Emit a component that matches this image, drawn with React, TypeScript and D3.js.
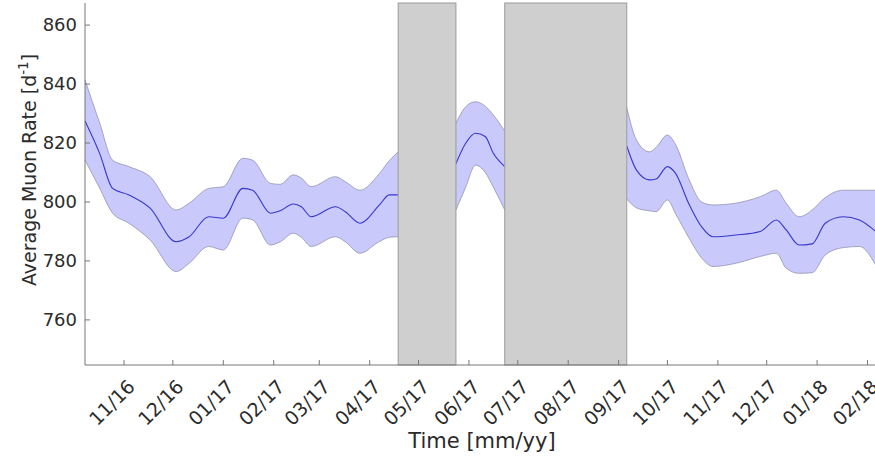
import React from "react";
import * as d3 from "d3";

// ---- data ----
const seg1Dates = ["2016-10-08","2016-10-17","2016-10-25","2016-11-04","2016-11-17","2016-12-03","2016-12-11","2016-12-23","2017-01-01","2017-01-13","2017-01-19","2017-01-30","2017-02-05","2017-02-13","2017-02-18","2017-02-24","2017-03-11","2017-03-17","2017-03-26","2017-04-07","2017-04-13","2017-04-18T12:00"];
const seg1Mean = [827.5,816.5,804.6,802.4,797.9,786.5,788.2,795,794.5,804.6,804,796.2,797,799.3,798.4,795,798.4,796.7,792.8,799,802.4,802.4];
const seg1Lower = [814.2,804.7,796.2,792.8,787.1,776.4,779.2,784.9,783.7,794.5,793.9,785.4,786.5,789.4,788,784.9,788.2,786.5,782.6,786.6,788,788.2];
const seg1Upper = [841.4,826.8,814.2,812,808.6,797.3,799.6,804.6,805.2,814.8,814.2,806.3,806,809.2,808.1,805.2,808.6,806.9,804,809.7,814,817];

const seg2Dates = ["2017-05-24","2017-05-30","2017-06-05","2017-06-11","2017-06-16","2017-06-23"];
const seg2Mean = [813,819.9,823.3,822.2,816.5,812];
const seg2Lower = [797.3,805,812.5,810,805,797.3];
const seg2Upper = [826.7,832.3,834,832.5,829.5,824];

const seg3Dates = ["2017-09-06","2017-09-12","2017-09-20","2017-09-24","2017-10-01","2017-10-06","2017-10-14","2017-10-22","2017-10-29","2017-11-12","2017-11-27","2017-12-07","2017-12-13","2017-12-21","2017-12-29","2018-01-06","2018-01-17","2018-01-27","2018-02-06"];
const seg3Mean = [819,810.8,807.5,807.8,812,809.7,799.6,791.6,788.2,788.8,790,793.9,790.5,785.4,785.8,792.8,795,793.9,790];
const seg3Lower = [801,798,797,796.7,800.7,796,788,781,778.1,779.2,781.5,782.6,777.5,775.8,776,782,784.5,784.9,778.6];
const seg3Upper = [832,821,817,818.5,822.7,819.5,808,800,799,799.6,801.8,804,799.6,795,797.3,801.5,804,804,804];

const gapStarts = ["2017-04-18T12:00","2017-06-23"];
const gapEnds = ["2017-05-24","2017-09-06"];

const yTicks = [760, 780, 800, 820, 840, 860];
const xTickMonths = ["2016-11-01","2016-12-01","2017-01-01","2017-02-01","2017-03-01","2017-04-01","2017-05-01","2017-06-01","2017-07-01","2017-08-01","2017-09-01","2017-10-01","2017-11-01","2017-12-01","2018-01-01","2018-02-01"];

const xLabel = "Time [mm/yy]";
const yLabel = "Average Muon Rate [d";

// ---- layout ----
const W = 875, H = 459;
const left = 85, right = 875, top = 3, bottom = 365;

const parse = (s: string) => new Date(s + (s.includes("T") ? "" : "T00:00"));

export default function App() {
  const x = d3.scaleTime()
    .domain([parse("2016-10-08"), parse("2018-02-05T14:00")])
    .range([left, right]);
  const y = d3.scaleLinear().domain([744.7, 867.5]).range([bottom, top]);
  const fmt = d3.timeFormat("%m/%y");

  const segs = [
    { d: seg1Dates, m: seg1Mean, lo: seg1Lower, hi: seg1Upper },
    { d: seg2Dates, m: seg2Mean, lo: seg2Lower, hi: seg2Upper },
    { d: seg3Dates, m: seg3Mean, lo: seg3Lower, hi: seg3Upper },
  ];

  const area = d3.area<[Date, number, number]>()
    .x(p => x(p[0]))
    .y0(p => y(p[1]))
    .y1(p => y(p[2]))
    .curve(d3.curveMonotoneX);
  const line = d3.line<[Date, number]>()
    .x(p => x(p[0]))
    .y(p => y(p[1]))
    .curve(d3.curveMonotoneX);

  const font = "'DejaVu Sans', sans-serif";
  const textCol = "#2b2b2b";

  return (
    <svg width={W} height={H} style={{ display: "block", position: "absolute", left: 0, top: 0, background: "#fff" }}>
      <rect x={0} y={0} width={W} height={H} fill="#fff" />
      {segs.map((s, i) => {
        const pts = s.d.map((dd, j) => [parse(dd), s.lo[j], s.hi[j]] as [Date, number, number]);
        const mpts = s.d.map((dd, j) => [parse(dd), s.m[j]] as [Date, number]);
        const lopts = s.d.map((dd, j) => [parse(dd), s.lo[j]] as [Date, number]);
        const hipts = s.d.map((dd, j) => [parse(dd), s.hi[j]] as [Date, number]);
        return (
          <g key={i}>
            <path d={area(pts) || ""} fill="#c9c9fc" stroke="none" />
            <path d={line(lopts) || ""} fill="none" stroke="#7f7f9a" strokeWidth={0.8} strokeOpacity={0.8} />
            <path d={line(hipts) || ""} fill="none" stroke="#7f7f9a" strokeWidth={0.8} strokeOpacity={0.8} />
            <path d={line(mpts) || ""} fill="none" stroke="#3636cf" strokeWidth={1.1} />
          </g>
        );
      })}
      {gapStarts.map((g, i) => (
        <rect key={i} x={x(parse(g))} y={top} width={x(parse(gapEnds[i])) - x(parse(g))} height={bottom - top}
          fill="#cfcfcf" stroke="#9a9a9a" strokeWidth={1} />
      ))}
      {/* axes */}
      <line x1={left} x2={left} y1={top} y2={bottom} stroke="#777" strokeWidth={1} />
      <line x1={left} x2={right} y1={bottom} y2={bottom} stroke="#777" strokeWidth={1} />
      {yTicks.map(t => (
        <g key={t}>
          <line x1={left} x2={left + 5} y1={y(t)} y2={y(t)} stroke="#777" />
          <text x={77} y={y(t)} dy="0.35em" textAnchor="end" fontFamily={font} fontSize={18} fill={textCol}>{t}</text>
        </g>
      ))}
      {xTickMonths.map(m => {
        const xx = x(parse(m));
        return (
          <g key={m}>
            <line x1={xx} x2={xx} y1={bottom} y2={bottom - 5} stroke="#777" />
            <text transform={`translate(${xx + 12},388) rotate(-45)`} textAnchor="end" fontFamily={font} fontSize={19} fill={textCol}>{fmt(parse(m))}</text>
          </g>
        );
      })}
      <text x={482} y={448} textAnchor="middle" fontFamily={font} fontSize={21} fill={textCol}>{xLabel}</text>
      <text transform={`translate(36,170) rotate(-90)`} textAnchor="middle" fontFamily={font} fontSize={19} fill={textCol}>
        {yLabel}<tspan fontSize={13.5} dy={-8.5}>-1</tspan><tspan dy={8.5}>]</tspan>
      </text>
    </svg>
  );
}
